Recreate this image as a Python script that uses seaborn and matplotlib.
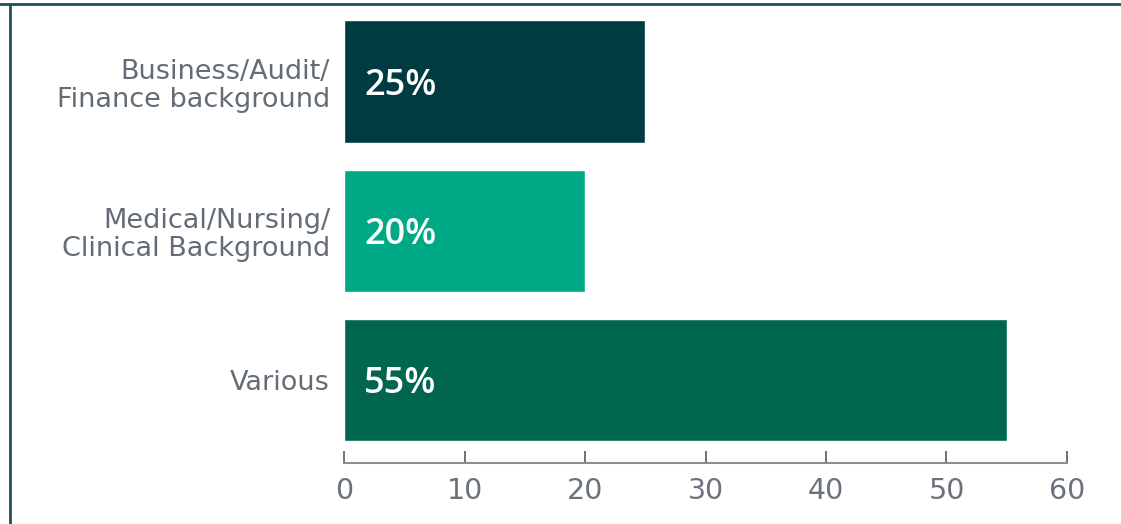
import matplotlib
matplotlib.use("Agg")
import matplotlib.pyplot as plt
from matplotlib.lines import Line2D
import seaborn as sns
import pandas as pd

categories = ["Business/Audit/\nFinance background",
              "Medical/Nursing/\nClinical Background",
              "Various"]
values = [25, 20, 55]
bar_colors = ["#003b42", "#00a985", "#006650"]
x_ticks = [0, 10, 20, 30, 40, 50, 60]

sns.set_theme(style="white")
plt.rcParams["font.family"] = ["DejaVu Sans"]

df = pd.DataFrame({"category": categories, "share": values})

fig = plt.figure(figsize=(11.21, 5.24), dpi=100)
ax = fig.add_axes([0.3069, 0.1164, 0.6449, 0.8646])

sns.barplot(data=df, y="category", x="share", hue="category",
            palette=bar_colors, orient="h", width=0.82,
            legend=False, saturation=1, ax=ax)

ax.set_xlim(0, 60)
ax.set_ylim(2.557, -0.48)
ax.set_xticks(x_ticks)
ax.set_xlabel("")
ax.set_ylabel("")

for s in ["top", "right", "left"]:
    ax.spines[s].set_visible(False)
ax.spines["bottom"].set_color("#8a8f96")
ax.spines["bottom"].set_linewidth(1.5)

ax.tick_params(axis="x", bottom=True, direction="in", length=8.5, width=1.2,
               color="#55595e", labelsize=20.5, labelcolor="#6b727b", pad=10)
ax.tick_params(axis="y", left=False, length=0, labelsize=19.5,
               labelcolor="#646d77", pad=10)
for lbl in ax.get_yticklabels():
    lbl.set_linespacing(1.12)

for i, v in enumerate(values):
    ax.text(1.65, i, f"{v}%", va="center_baseline", ha="left", color="white",
            fontsize=26, fontweight="semibold", family=["Open Sans", "DejaVu Sans"])

# frame lines along the top and left edge of the figure
fig.add_artist(Line2D([0, 1], [1 - 4 / 524, 1 - 4 / 524], transform=fig.transFigure,
                      color="#1d4f5c", linewidth=2))
fig.add_artist(Line2D([10 / 1121, 10 / 1121], [0, 1 - 4 / 524], transform=fig.transFigure,
                      color="#1d4f5c", linewidth=2))

fig.savefig("out.png", dpi=100, facecolor="white")
